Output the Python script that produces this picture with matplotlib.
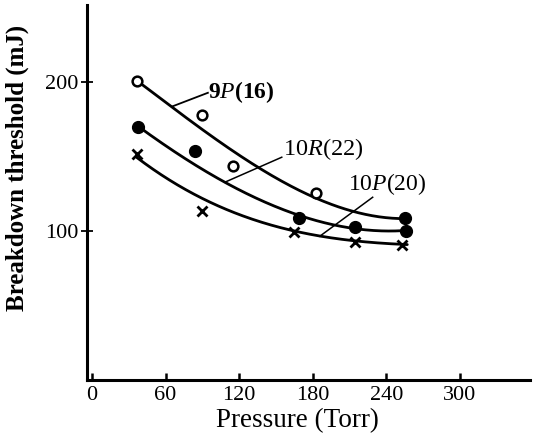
import numpy as np
import matplotlib
matplotlib.use("Agg")
import matplotlib.pyplot as plt

plt.rcParams["font.family"] = ["Liberation Serif", "DejaVu Serif"]
plt.rcParams["mathtext.fontset"] = "custom"
plt.rcParams["mathtext.rm"] = "Liberation Serif"
plt.rcParams["mathtext.it"] = "Liberation Serif:italic"

# measured points (Torr, mJ)
p9_x = [37, 90, 115, 183, 255]
p9_y = [201, 178, 144, 126, 109]
r10_x = [37.5, 84, 169, 214, 256]
r10_y = [170, 154, 109, 103, 100]
p10_x = [36.6, 90, 165, 214, 253]
p10_y = [151.7, 113.4, 99.3, 92.6, 90.6]

# points along the hand-drawn fit curves
c9_x = [37.5, 67.6, 100.2, 132.7, 173.5, 212.5, 240, 257]
c9_y = [200, 183, 163.1, 142.3, 126, 113.9, 109.5, 107.9]
c10r_x = [37.5, 53.7, 81.4, 108.3, 135.2, 167.8, 212.5, 240, 257]
c10r_y = [170, 161.7, 146.3, 132.9, 121.5, 110.1, 102.7, 100.6, 100]
c10p_x = [36.6, 45, 53.7, 81.4, 108.3, 135.2, 159.6, 185.7, 212.5, 240, 257]
c10p_y = [151.7, 143.5, 137, 126.2, 116.1, 106.7, 101.3, 96.6, 93.3, 91.6, 91.3]

xticks = [0, 60, 120, 180, 240, 300]
yticks = [100, 200]


def smooth(xs, ys, deg=3):
    # smooth line through the read curve points
    c = np.polyfit(xs, ys, deg)
    xx = np.linspace(xs[0], xs[-1], 200)
    return xx, np.polyval(c, xx)


fig = plt.figure(figsize=(5.42, 4.41), dpi=100)
ax = fig.add_axes([87 / 542, 61 / 441, 443 / 542, 375 / 441])

lw = 2.0
for cx, cy in [(c9_x, c9_y), (c10r_x, c10r_y), (c10p_x, c10p_y)]:
    xx, yy = smooth(cx, cy)
    ax.plot(xx, yy, color="black", lw=lw, solid_capstyle="round")

ax.plot(p9_x[:-1], p9_y[:-1], "o", ms=7, mfc="white", mec="black", mew=1.8)
ax.plot(p9_x[-1:], p9_y[-1:], "o", ms=8.5, color="black")
ax.plot(r10_x, r10_y, "o", ms=8.5, color="black")
ax.plot(p10_x, p10_y, "x", ms=7, color="black", mew=2)

# leader lines and labels
ax.plot([66, 94.5], [184, 193], color="black", lw=1.3)
ax.plot([108.3, 154.7], [132.9, 149.7], color="black", lw=1.1)
ax.plot([185.7, 228.8], [96.6, 122.8], color="black", lw=1.1)
ax.text(95, 193.5, r"9$P$(16)", fontsize=17, fontweight="bold", ha="left", va="center")
ax.text(156, 155.5, r"10$R$(22)", fontsize=17.5, ha="left", va="center")
ax.text(209, 131.5, r"10$P$(20)", fontsize=17, ha="left", va="center")

ax.set_xlim(-4, 357)
ax.set_ylim(0, 252)
ax.set_xticks(xticks)
ax.set_yticks(yticks)
ax.tick_params(axis="x", direction="in", length=5, width=1.8, pad=4, labelsize=16)
ax.tick_params(axis="y", direction="inout", length=8, width=1.3, pad=2, labelsize=16)

for s in ["top", "right"]:
    ax.spines[s].set_visible(False)
ax.spines["left"].set_linewidth(2.2)
ax.spines["bottom"].set_linewidth(2.2)

ax.set_xlabel("Pressure (Torr)", fontsize=19.5)
ax.xaxis.set_label_coords(0.474, -0.075)
ax.set_ylabel("Breakdown threshold (mJ)", fontsize=18, fontweight="bold")
ax.yaxis.set_label_coords(-0.13, 0.565)

fig.savefig("out.png", dpi=100)
